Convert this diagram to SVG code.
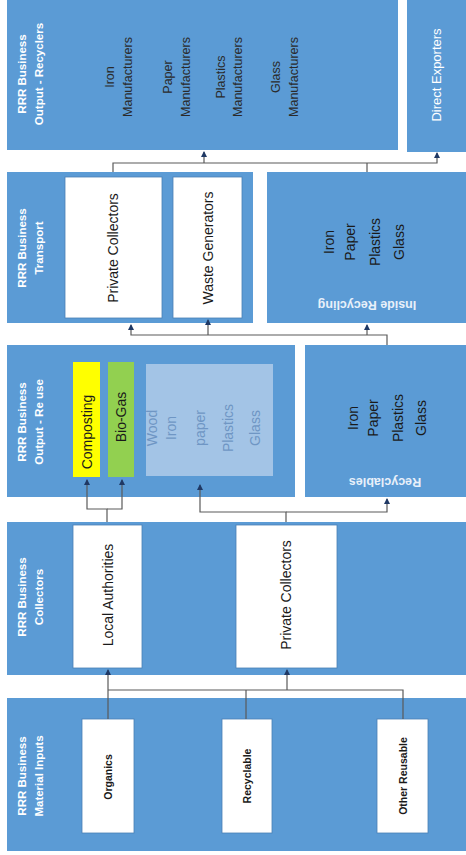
<svg xmlns="http://www.w3.org/2000/svg" width="466" height="855" viewBox="0 0 466 855">
<style>
.band{fill:#5b9bd5}
.wbox{fill:#ffffff;stroke:#4a7fb5;stroke-width:0.8}
.lbl{font-family:"Liberation Sans",Arial,sans-serif;font-size:11.5px;font-weight:bold;fill:#ffffff;text-anchor:middle}
.big{font-family:"Liberation Sans",Arial,sans-serif;font-size:14px;fill:#1a1a1a;text-anchor:middle}
.mid{font-family:"Liberation Sans",Arial,sans-serif;font-size:12.5px;fill:#2a2a2a;text-anchor:middle}
.sm{font-family:"Liberation Sans",Arial,sans-serif;font-size:10.5px;font-weight:bold;fill:#1a1a1a;text-anchor:middle}
.inv{font-family:"Liberation Sans",Arial,sans-serif;font-size:12.5px;font-weight:bold;fill:#e8f0fa;text-anchor:middle}
.fade{font-family:"Liberation Sans",Arial,sans-serif;font-size:14px;fill:#6f96c4;text-anchor:middle}
.conn{fill:none;stroke:#5a5a5a;stroke-width:1.2}
</style>
<defs>
<marker id="ah" viewBox="0 0 6 6" refX="5" refY="3" markerWidth="5" markerHeight="5" orient="auto">
<path d="M0,0 L6,3 L0,6 z" fill="#1f3864"/>
</marker>
</defs>
<rect width="466" height="855" fill="#ffffff"/>

<g id="output-recyclers">
<rect class="band" x="7" y="0" width="391" height="150"/>
<text class="lbl" transform="translate(26,74) rotate(-90)"><tspan x="0" y="0">RRR Business</tspan><tspan x="0" dy="17">Output - Recyclers</tspan></text>
<text class="mid" transform="translate(114,77) rotate(-90)"><tspan x="0" y="0">Iron</tspan><tspan x="0" dy="18">Manufacturers</tspan></text>
<text class="mid" transform="translate(172,77) rotate(-90)"><tspan x="0" y="0">Paper</tspan><tspan x="0" dy="18">Manufacturers</tspan></text>
<text class="mid" transform="translate(225,77) rotate(-90)"><tspan x="0" y="0">Plastics</tspan><tspan x="0" dy="17">Manufacturers</tspan></text>
<text class="mid" transform="translate(280,77) rotate(-90)"><tspan x="0" y="0">Glass</tspan><tspan x="0" dy="18">Manufacturers</tspan></text>
</g>

<g id="direct-exporters">
<rect class="band" x="407" y="0" width="59" height="152"/>
<text class="lbl" style="font-size:13px;font-weight:normal" transform="translate(441,75) rotate(-90)">Direct Exporters</text>
</g>

<g id="transport">
<rect class="band" x="7" y="172" width="246" height="151"/>
<text class="lbl" transform="translate(26,248) rotate(-90)"><tspan x="0" y="0">RRR Business</tspan><tspan x="0" dy="17">Transport</tspan></text>
</g>
<g id="transport-private-collectors">
<rect class="wbox" x="65" y="177" width="97" height="141"/>
<text class="big" transform="translate(118,248) rotate(-90)">Private Collectors</text>
</g>
<g id="waste-generators">
<rect class="wbox" x="173" y="177" width="69" height="141"/>
<text class="big" transform="translate(213,248) rotate(-90)">Waste Generators</text>
</g>

<g id="inside-recycling">
<rect class="band" x="267" y="172" width="199" height="151"/>
<text class="big" transform="translate(334,242) rotate(-90)"><tspan x="0" y="0">Iron</tspan><tspan x="0" dy="21">Paper</tspan><tspan x="0" dy="25">Plastics</tspan><tspan x="0" dy="24">Glass</tspan></text>
<text class="inv" transform="translate(367,301) rotate(180)">Inside Recycling</text>
</g>

<g id="output-reuse">
<rect class="band" x="7" y="345" width="288" height="152"/>
<text class="lbl" transform="translate(26,422) rotate(-90)"><tspan x="0" y="0">RRR Business</tspan><tspan x="0" dy="17">Output - Re use</tspan></text>
</g>
<g id="composting">
<rect x="73" y="362" width="27" height="115" fill="#ffff00"/>
<text class="big" transform="translate(92,432) rotate(-90)">Composting</text>
</g>
<g id="bio-gas">
<rect x="108" y="362" width="26" height="115" fill="#92d050"/>
<text class="big" transform="translate(126,417) rotate(-90)">Bio-Gas</text>
</g>
<g id="reuse-materials">
<rect x="146" y="364" width="127" height="112" fill="#a3c4e6"/>
<text class="fade" transform="translate(157,428) rotate(-90)"><tspan x="0" y="0">Wood</tspan><tspan x="0" dy="19">Iron</tspan><tspan x="0" dy="29">paper</tspan><tspan x="0" dy="28">Plastics</tspan><tspan x="0" dy="27">Glass</tspan></text>
</g>

<g id="recyclables">
<rect class="band" x="305" y="345" width="161" height="152"/>
<text class="big" transform="translate(358,418) rotate(-90)"><tspan x="0" y="0">Iron</tspan><tspan x="0" dy="20">Paper</tspan><tspan x="0" dy="25">Plastics</tspan><tspan x="0" dy="23">Glass</tspan></text>
<text class="inv" transform="translate(385,478) rotate(180)">Recyclables</text>
</g>

<g id="collectors">
<rect class="band" x="7" y="522" width="459" height="153"/>
<text class="lbl" transform="translate(26,597) rotate(-90)"><tspan x="0" y="0">RRR Business</tspan><tspan x="0" dy="17">Collectors</tspan></text>
</g>
<g id="local-authorities">
<rect class="wbox" x="73" y="525" width="69" height="143"/>
<text class="big" transform="translate(113,595) rotate(-90)">Local Authorities</text>
</g>
<g id="collectors-private-collectors">
<rect class="wbox" x="236" y="525" width="101" height="143"/>
<text class="big" transform="translate(291,595) rotate(-90)">Private Collectors</text>
</g>

<g id="material-inputs">
<rect class="band" x="7" y="698" width="459" height="153"/>
<text class="lbl" transform="translate(26,776) rotate(-90)"><tspan x="0" y="0">RRR Business</tspan><tspan x="0" dy="17">Material Inputs</tspan></text>
</g>
<g id="organics">
<rect class="wbox" x="82" y="719" width="52" height="114"/>
<text class="sm" transform="translate(112,777) rotate(-90)">Organics</text>
</g>
<g id="recyclable">
<rect class="wbox" x="222" y="719" width="50" height="114"/>
<text class="sm" transform="translate(251,776) rotate(-90)">Recyclable</text>
</g>
<g id="other-reusable">
<rect class="wbox" x="377" y="719" width="51" height="114"/>
<text class="sm" transform="translate(407,776) rotate(-90)">Other Reusable</text>
</g>

<g id="connectors">
<path class="conn" d="M113,172 V163 H437 V153" marker-end="url(#ah)"/>
<path class="conn" d="M204,163 V152" marker-end="url(#ah)"/>
<path class="conn" d="M367,172 V163"/>
<path class="conn" d="M387,345 V335 H131 V325" marker-end="url(#ah)"/>
<path class="conn" d="M208,335 V320" marker-end="url(#ah)"/>
<path class="conn" d="M367,335 V325" marker-end="url(#ah)"/>
<path class="conn" d="M107,522 V509 H87 V480" marker-end="url(#ah)"/>
<path class="conn" d="M107,509 H122 V480" marker-end="url(#ah)"/>
<path class="conn" d="M286,522 V512 H200 V485" marker-end="url(#ah)"/>
<path class="conn" d="M286,512 H387 V499" marker-end="url(#ah)"/>
<path class="conn" d="M108,719 V670" marker-end="url(#ah)"/>
<path class="conn" d="M108,690 H403 V719"/>
<path class="conn" d="M246,690 V719"/>
<path class="conn" d="M287,690 V670" marker-end="url(#ah)"/>
</g>
</svg>
